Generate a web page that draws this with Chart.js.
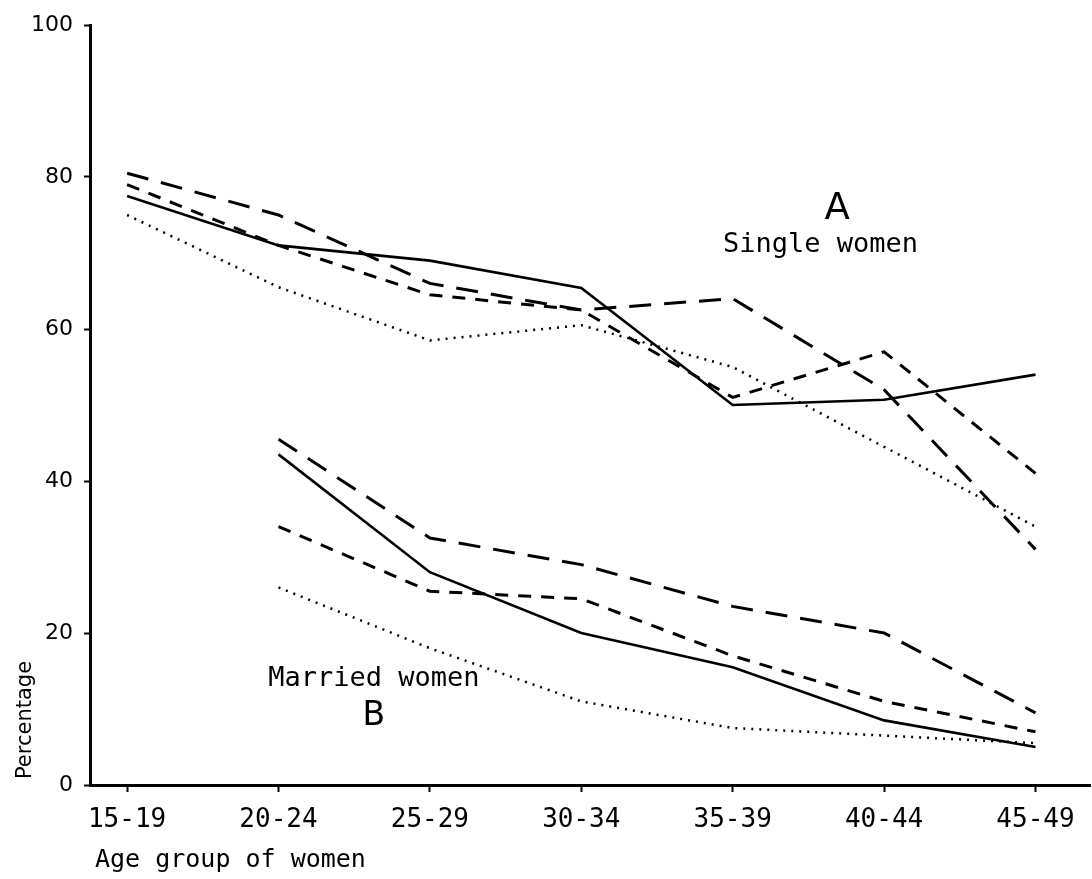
<!DOCTYPE html>
<html>
<head>
<meta charset="utf-8">
<script src="https://cdn.jsdelivr.net/npm/chart.js@4"></script>
<style>
  html, body { margin: 0; padding: 0; background: #fff; }
  #wrap { width: 1092px; height: 879px; }
</style>
</head>
<body>
<div id="wrap"><canvas id="grafica" width="1092" height="879"></canvas></div>
<script>
// Age groups along the x axis
const ageGroups = ["15-19", "20-24", "25-29", "30-34", "35-39", "40-44", "45-49"];
const yTicks = [0, 20, 40, 60, 80, 100];

// A: single women (percent)
const singleSolid     = [77.5, 71, 69, 65.4, 50, 50.7, 54];
const singleLongDash  = [80.5, 75, 66, 62.5, 64, 52, 31];
const singleShortDash = [79, 71, 64.5, 62.5, 51, 57, 41];
const singleDotted    = [75, 65.5, 58.5, 60.5, 55, 44.5, 34];

// B: married women (no 15-19 group)
const marriedSolid     = [null, 43.5, 28, 20, 15.5, 8.5, 5];
const marriedLongDash  = [null, 45.5, 32.5, 29, 23.5, 20, 9.5];
const marriedShortDash = [null, 34, 25.5, 24.5, 17, 11, 7];
const marriedDotted    = [null, 26, 18, 11, 7.5, 6.5, 5.5];

const styles = {
  solid: { borderDash: [], borderWidth: 2.6 },
  long: { borderDash: [22, 13], borderWidth: 3 },
  short: { borderDash: [13, 10], borderWidth: 3 },
  dot: { borderDash: [2, 6], borderWidth: 2.5 },
};

function serie(values, style) {
  return {
    data: values.map((v, i) => ({ x: i, y: v })),
    borderColor: "#000",
    borderDash: styles[style].borderDash,
    borderWidth: styles[style].borderWidth,
    pointRadius: 0,
    tension: 0,
    fill: false,
    spanGaps: false,
  };
}

// Free text: group labels and axis titles
const textos = {
  id: "textos",
  afterDraw(chart) {
    const { ctx, scales } = chart;
    const x = scales.x, y = scales.y;
    ctx.save();
    ctx.fillStyle = "#000";
    ctx.textAlign = "center";
    ctx.textBaseline = "middle";
    ctx.font = "37px 'DejaVu Sans'";
    ctx.fillText("A", x.getPixelForValue(4.69), y.getPixelForValue(75.7));
    ctx.font = "33px 'DejaVu Sans'";
    ctx.fillText("B", x.getPixelForValue(1.63), y.getPixelForValue(9.0));
    ctx.font = "27px 'DejaVu Sans Mono'";
    ctx.fillText("Single women", x.getPixelForValue(4.58), y.getPixelForValue(71));
    ctx.fillText("Married women", x.getPixelForValue(1.63), y.getPixelForValue(14));

    ctx.font = "25px 'DejaVu Sans Mono'";
    ctx.textAlign = "left";
    ctx.fillText("Age group of women", 95, 860);

    ctx.translate(26, 720);
    ctx.rotate(-Math.PI / 2);
    ctx.textAlign = "center";
    ctx.font = "21px 'DejaVu Sans'";
    ctx.fillText("Percentage", 0, 0);
    ctx.restore();
  },
};

document.addEventListener("DOMContentLoaded", function () {
  const ctx = document.getElementById("grafica").getContext("2d");
  new Chart(ctx, {
    type: "line",
    data: {
      datasets: [
        serie(singleSolid, "solid"),
        serie(singleLongDash, "long"),
        serie(singleShortDash, "short"),
        serie(singleDotted, "dot"),
        serie(marriedSolid, "solid"),
        serie(marriedLongDash, "long"),
        serie(marriedShortDash, "short"),
        serie(marriedDotted, "dot"),
      ],
    },
    options: {
      responsive: false,
      animation: false,
      layout: { padding: { left: 0, right: 2, top: 25, bottom: 0 } },
      plugins: { legend: { display: false }, tooltip: { enabled: false } },
      scales: {
        x: {
          type: "linear",
          min: -0.245,
          max: 6.36,
          afterBuildTicks: (s) => { s.ticks = ageGroups.map((_, i) => ({ value: i })); },
          afterFit: (s) => { s.height = 94; },
          ticks: {
            callback: (v) => ageGroups[v],
            color: "#000",
            font: { family: "'DejaVu Sans Mono'", size: 26 },
            padding: 13,
            maxRotation: 0,
            autoSkip: false,
          },
          grid: { drawOnChartArea: false, tickLength: 7, tickColor: "#000", tickWidth: 2 },
          border: { display: true, color: "#000", width: 3 },
        },
        y: {
          min: 0,
          max: 100,
          afterBuildTicks: (s) => { s.ticks = yTicks.map((v) => ({ value: v })); },
          afterFit: (s) => { s.width = 90; },
          ticks: {
            color: "#000",
            font: { family: "'DejaVu Sans'", size: 22 },
            padding: 11,
          },
          grid: { drawOnChartArea: false, tickLength: 6, tickColor: "#000", tickWidth: 2 },
          border: { display: true, color: "#000", width: 3 },
        },
      },
    },
    plugins: [textos],
  });
});
</script>
</body>
</html>
